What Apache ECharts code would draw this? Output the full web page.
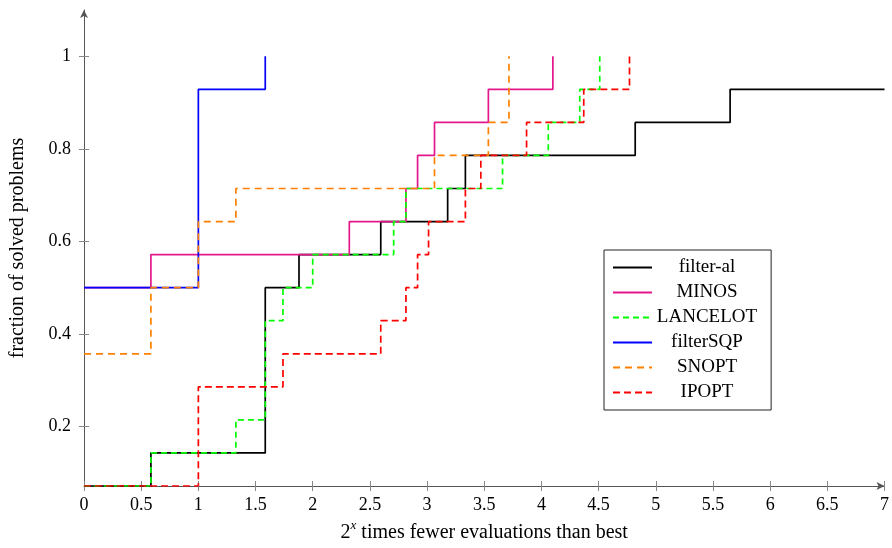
<!DOCTYPE html>
<html>
<head>
<meta charset="utf-8">
<script src="https://cdn.jsdelivr.net/npm/echarts@6/dist/echarts.min.js"></script>
<style>
  html, body { margin: 0; padding: 0; background: #fff; }
  #chart { width: 892px; height: 548px; }
</style>
</head>
<body>
<div id="chart"></div>
<script>
// 14 test problems; step data as (log2 ratio, problems solved)
const NPROB = 14

const filterAlX = [0, 0.585, 1.585, 1.88, 2.595, 3.18, 3.335, 4.82, 5.65, 7]
const filterAlN = [1, 2, 7, 8, 9, 10, 11, 12, 13, 13]

const minosX = [0, 0.585, 2.32, 2.815, 2.917, 3.065, 3.536, 4.1]
const minosN = [7, 8, 9, 10, 11, 12, 13, 14]

const lancelotX = [0, 0.585, 1.328, 1.585, 1.74, 2.0, 2.708, 2.815, 3.66, 4.06, 4.335, 4.51]
const lancelotN = [1, 2, 3, 6, 7, 8, 9, 10, 11, 12, 13, 14]

const filterSqpX = [0, 1.0, 1.585]
const filterSqpN = [7, 13, 14]

const snoptX = [0, 0.585, 1.0, 1.328, 3.065, 3.536, 3.716]
const snoptN = [5, 7, 9, 10, 11, 12, 14]

const ipoptX = [0, 1.0, 1.74, 2.595, 2.815, 2.917, 3.013, 3.335, 3.47, 3.87, 4.37, 4.77]
const ipoptN = [1, 4, 5, 6, 7, 8, 9, 10, 11, 12, 13, 14]

const xTicks = [0, 0.5, 1, 1.5, 2, 2.5, 3, 3.5, 4, 4.5, 5, 5.5, 6, 6.5, 7]
const yTicks = [0.2, 0.4, 0.6, 0.8, 1]

const FONT = '"Liberation Serif", "DejaVu Serif", serif'

function pts(xs, ns) {
  return xs.map((x, i) => [x, ns[i] / NPROB])
}

function stepSeries(name, xs, ns, color, dash) {
  return {
    name,
    type: 'line',
    step: 'end',
    data: pts(xs, ns),
    showSymbol: false,
    symbol: 'none',
    silent: true,
    lineStyle: { color, width: 1.7, type: dash || 'solid' },
    itemStyle: { color }
  }
}

const chart = echarts.init(document.getElementById('chart'))

const axisGray = '#555'
const tickGray = '#888'

chart.setOption({
  animation: false,
  textStyle: { fontFamily: FONT },
  grid: { left: 83, right: 6, top: 10, bottom: 58 },
  legend: {
    orient: 'vertical',
    left: 604,
    top: 250,
    padding: [8, 14, 8, 8],
    itemWidth: 39,
    itemHeight: 14,
    itemGap: 6,
    backgroundColor: '#fff',
    borderColor: '#222',
    borderWidth: 1,
    borderRadius: 0,
    itemStyle: { opacity: 0, borderWidth: 0 },
    data: ['filter-al', 'MINOS', 'LANCELOT', 'filterSQP', 'SNOPT', 'IPOPT'],
    formatter: (name) => `{c|${name}}`,
    textStyle: {
      fontFamily: FONT,
      fontSize: 19,
      color: '#000',
      rich: { c: { width: 100, align: 'center', fontFamily: FONT, fontSize: 19, color: '#000' } }
    }
  },
  xAxis: [
    {
      type: 'value',
      min: 0,
      max: 7,
      interval: 0.5,
      name: '{a|2}{s|x}{a| times fewer evaluations than best}',
      nameLocation: 'middle',
      nameGap: 33,
      nameTextStyle: {
        rich: {
          a: { fontFamily: FONT, fontSize: 20, lineHeight: 24, color: '#000', verticalAlign: 'bottom' },
          s: { fontFamily: FONT, fontSize: 13, lineHeight: 13, fontStyle: 'italic', color: '#000', verticalAlign: 'top' }
        }
      },
      splitLine: { show: false },
      axisLine: { show: true, onZero: false, lineStyle: { color: axisGray, width: 1 }, symbol: ['none', 'arrow'], symbolSize: [6, 8] },
      axisTick: { show: true, inside: false, length: 5, lineStyle: { color: tickGray } },
      axisLabel: {
        margin: 10,
        fontFamily: FONT,
        fontSize: 18,
        color: '#000',
        customValues: xTicks,
        formatter: (v) => String(v)
      }
    },
    {
      type: 'value',
      position: 'bottom',
      min: 0,
      max: 7,
      interval: 0.5,
      splitLine: { show: false },
      axisLine: { show: false },
      axisLabel: { show: false },
      axisTick: { show: true, inside: true, length: 5, lineStyle: { color: tickGray } }
    }
  ],
  yAxis: [
    {
      type: 'value',
      min: 1 / NPROB,
      max: 1.1,
      name: 'fraction of solved problems',
      nameLocation: 'middle',
      nameGap: 56,
      nameTextStyle: { fontFamily: FONT, fontSize: 20, color: '#000' },
      splitLine: { show: false },
      axisLine: { show: true, onZero: false, lineStyle: { color: axisGray, width: 1 }, symbol: ['none', 'arrow'], symbolSize: [6, 8] },
      axisTick: { show: true, inside: false, length: 5, customValues: yTicks, lineStyle: { color: tickGray } },
      axisLabel: {
        margin: 13,
        fontFamily: FONT,
        fontSize: 18,
        color: '#000',
        customValues: yTicks,
        formatter: (v) => String(Math.round(v * 10) / 10)
      }
    },
    {
      type: 'value',
      position: 'left',
      min: 1 / NPROB,
      max: 1.1,
      splitLine: { show: false },
      axisLine: { show: false },
      axisLabel: { show: false },
      axisTick: { show: true, inside: true, length: 5, customValues: yTicks, lineStyle: { color: tickGray } }
    }
  ],
  series: [
    stepSeries('filter-al', filterAlX, filterAlN, '#000000'),
    stepSeries('MINOS', minosX, minosN, '#e3178c'),
    stepSeries('LANCELOT', lancelotX, lancelotN, '#00ff00', [6, 4]),
    stepSeries('filterSQP', filterSqpX, filterSqpN, '#0000ff'),
    stepSeries('SNOPT', snoptX, snoptN, '#ff8000', [7, 5]),
    stepSeries('IPOPT', ipoptX, ipoptN, '#ff0000', [7, 4])
  ]
})
</script>
</body>
</html>
